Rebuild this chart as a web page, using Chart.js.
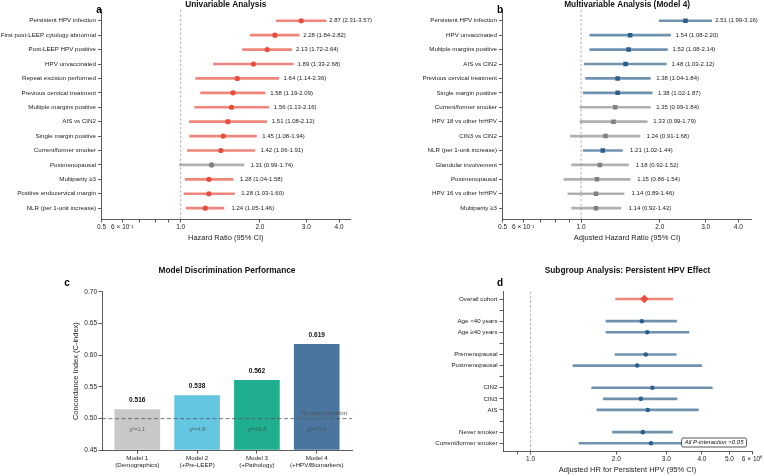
<!DOCTYPE html>
<html>
<head>
<meta charset="utf-8">
<script src="https://cdn.jsdelivr.net/npm/chart.js@4.4.1/dist/chart.umd.min.js"></script>
<style>
  html, body { margin: 0; padding: 0; background: #fff; }
  #wrap { position: relative; width: 764px; height: 476px; overflow: hidden; }
  canvas { position: absolute; }
</style>
</head>
<body>
<div id="wrap">
  <canvas id="pa" width="382" height="245" style="left:0;top:0"></canvas>
  <canvas id="pb" width="382" height="245" style="left:382px;top:0"></canvas>
  <canvas id="pc" width="382" height="231" style="left:0;top:245px"></canvas>
  <canvas id="pd" width="382" height="231" style="left:382px;top:245px"></canvas>
</div>
<script>
// ── panel a: univariable ──
const labelsA = [
  'Persistent HPV infection', 'First post-LEEP cytology abnormal', 'Post-LEEP HPV positive',
  'HPV unvaccinated', 'Repeat excision performed', 'Previous cervical treatment',
  'Multiple margins positive', 'AIS vs CIN2', 'Single margin positive', 'Current/former smoker',
  'Postmenopausal', 'Multiparity ≥3', 'Positive endocervical margin', 'NLR (per 1-unit increase)',
];
const hrA = [2.87, 2.28, 2.13, 1.89, 1.64, 1.58, 1.56, 1.51, 1.45, 1.42, 1.31, 1.28, 1.28, 1.24];
const loA = [2.31, 1.84, 1.72, 1.33, 1.14, 1.19, 1.13, 1.08, 1.08, 1.06, 0.99, 1.04, 1.03, 1.05];
const hiA = [3.57, 2.82, 2.64, 2.68, 2.36, 2.09, 2.16, 2.12, 1.94, 1.91, 1.74, 1.58, 1.60, 1.46];

// ── panel b: multivariable (model 4) ──
const labelsB = [
  'Persistent HPV infection', 'HPV unvaccinated', 'Multiple margins positive', 'AIS vs CIN2',
  'Previous cervical treatment', 'Single margin positive', 'Current/former smoker',
  'HPV 18 vs other hrHPV', 'CIN3 vs CIN2', 'NLR (per 1-unit increase)', 'Glandular involvement',
  'Postmenopausal', 'HPV 16 vs other hrHPV', 'Multiparity ≥3',
];
const hrB = [2.51, 1.54, 1.52, 1.48, 1.38, 1.38, 1.35, 1.33, 1.24, 1.21, 1.18, 1.15, 1.14, 1.14];
const loB = [1.99, 1.08, 1.08, 1.03, 1.04, 1.02, 0.99, 0.99, 0.91, 1.02, 0.92, 0.86, 0.89, 0.92];
const hiB = [3.16, 2.20, 2.14, 2.12, 1.84, 1.87, 1.84, 1.79, 1.68, 1.44, 1.52, 1.54, 1.46, 1.42];

// shared log tick labels for a and b
const xTicksAB      = [0.5, 0.6, 0.7, 0.8, 0.9, 1, 2, 3, 4];
const xTickLabelsAB = ['0.5', '6 × 10⁻¹', '', '', '', '1.0', '2.0', '3.0', '4.0'];

// ── panel c: discrimination ──
const modelLabels = [
  ['Model 1', '(Demographics)'], ['Model 2', '(+Pre-LEEP)'],
  ['Model 3', '(+Pathology)'], ['Model 4', '(+HPV/Biomarkers)'],
];
const cIndex  = [0.516, 0.538, 0.562, 0.619];
const chiSq   = [1.1, 4.8, 16.8, 73.0];
const yTicksC = [0.45, 0.50, 0.55, 0.60, 0.65, 0.70];

// ── panel d: subgroups ('' = spacer row) ──
const subgroupsD = [
  'Overall cohort', '', 'Age <40 years', 'Age ≥40 years', '', 'Premenopausal', 'Postmenopausal',
  '', 'CIN2', 'CIN3', 'AIS', '', 'Never smoker', 'Current/former smoker',
];
const hrD = [2.51, null, 2.46, 2.57, null, 2.54, 2.37, null, 2.68, 2.44, 2.58, null, 2.48, 2.65];
const loD = [1.99, null, 1.84, 1.84, null, 1.98, 1.41, null, 1.64, 1.80, 1.71, null, 1.94, 1.48];
const hiD = [3.16, null, 3.26, 3.60, null, 3.25, 3.99, null, 4.35, 3.27, 3.89, null, 3.15, 4.70];
const xTicksD      = [0.9, 1, 2, 3, 4, 5, 6];
const xTickLabelsD = ['', '1.0', '2.0', '3.0', '4.0', '5.0', '6 × 10⁰'];

// ── style ──
const FONT   = "'Liberation Sans', Arial, Helvetica, sans-serif";
const RED    = '#e74c3c';
const RED_CI = 'rgba(231,76,60,0.68)';
const BLUE   = '#2c5f8a';
const BLUE_CI = 'rgba(44,95,138,0.68)';
const GRAY   = '#808080';
const GRAY_CI = 'rgba(128,128,128,0.62)';
const MODEL_COLORS = ['#c8c8c8', '#64c6e0', '#1fae8f', '#49759e'];
const AXIS   = '#333';
const TEXT   = '#222';

Chart.defaults.font.family = FONT;
Chart.defaults.color = TEXT;

const gridOpts = { drawOnChartArea: false, offset: false, tickLength: 3.5, tickColor: AXIS, tickWidth: 0.8 };
const borderOpts = { color: AXIS, width: 0.8 };

// dashed reference line at HR = 1
const refLine = {
  id: 'refLine',
  beforeDatasetsDraw(chart) {
    const { ctx, chartArea, scales: { x } } = chart;
    const px = x.getPixelForValue(1);
    ctx.save();
    ctx.strokeStyle = '#9a9a9a';
    ctx.lineWidth = 0.8;
    ctx.setLineDash([2.5, 2]);
    ctx.beginPath();
    ctx.moveTo(px, chartArea.top);
    ctx.lineTo(px, chartArea.bottom);
    ctx.stroke();
    ctx.restore();
  },
};

const panelLetter = {
  id: 'panelLetter',
  afterDraw(chart, args, opts) {
    const ctx = chart.ctx;
    ctx.save();
    ctx.font = `bold 10px ${FONT}`;
    ctx.fillStyle = '#000';
    ctx.textAlign = 'center';
    ctx.textBaseline = 'middle';
    ctx.fillText(opts.text, opts.x, opts.y);
    ctx.restore();
  },
};

// "HR (lo-hi)" labels right of each CI
const ciText = {
  id: 'ciText',
  afterDatasetsDraw(chart, args, opts) {
    const { ctx, scales: { x, y } } = chart;
    ctx.save();
    ctx.font = `6px ${FONT}`;
    ctx.fillStyle = TEXT;
    ctx.textAlign = 'left';
    ctx.textBaseline = 'middle';
    opts.hr.forEach((v, i) => {
      const txt = `${v.toFixed(2)} (${opts.lo[i].toFixed(2)}-${opts.hi[i].toFixed(2)})`;
      ctx.fillText(txt, x.getPixelForValue(opts.hi[i] + 0.1), y.getPixelForValue(i));
    });
    ctx.restore();
  },
};

const interactionNote = {
  id: 'interactionNote',
  afterDraw(chart) {
    const { ctx, chartArea } = chart;
    const txt = 'All P-interaction >0.05';
    ctx.save();
    ctx.font = `italic 6px ${FONT}`;
    const w = ctx.measureText(txt).width + 6;
    const h = 9;
    const bx = chartArea.right - 5.5 - w;
    const by = chartArea.bottom - 4 - h;
    ctx.beginPath();
    ctx.roundRect(bx, by, w, h, 1.5);
    ctx.fillStyle = '#fff';
    ctx.fill();
    ctx.strokeStyle = '#111';
    ctx.lineWidth = 0.7;
    ctx.stroke();
    ctx.fillStyle = '#111';
    ctx.textAlign = 'center';
    ctx.textBaseline = 'middle';
    ctx.fillText(txt, bx + w / 2, by + h / 2 + 0.3);
    ctx.restore();
  },
};

function forestChart(id, o) {
  const rows = o.hr.map((v, i) => (v == null ? -1 : i)).filter((i) => i >= 0);
  return new Chart(document.getElementById(id), {
    type: 'bar',
    data: {
      datasets: [
        {
          type: 'line',
          data: rows.map((i) => ({ x: o.hr[i], y: i })),
          showLine: false,
          pointStyle: rows.map((i) => o.pointStyle(i)),
          pointRadius: rows.map((i) => o.pointRadius(i)),
          pointBackgroundColor: rows.map((i) => o.ptColor(i)),
          pointBorderWidth: 0,
          order: 0,
        },
        {
          type: 'bar',
          data: rows.map((i) => ({ x: [o.lo[i], o.hi[i]], y: i })),
          backgroundColor: rows.map((i) => o.ciColor(i)),
          barThickness: 2,
          order: 1,
        },
      ],
    },
    options: {
      indexAxis: 'y',
      responsive: false,
      animation: false,
      devicePixelRatio: 1,
      events: [],
      layout: { padding: { left: 0, top: o.padTop, right: o.padRight, bottom: 0 } },
      plugins: {
        legend: { display: false },
        tooltip: { enabled: false },
        title: {
          display: true, text: o.title, color: '#111', fullSize: false,
          font: { size: 8.3, weight: 'bold' }, padding: { top: 0, bottom: o.titleGap },
        },
        panelLetter: o.letter,
        ciText: { hr: o.hr, lo: o.lo, hi: o.hi },
      },
      scales: {
        x: {
          type: 'logarithmic',
          min: o.xMin,
          max: o.xMax,
          offset: false,
          afterBuildTicks: (s) => { s.ticks = o.xTicks.map((v) => ({ value: v })); },
          afterFit: (s) => { s.height = o.xAxisHeight; },
          ticks: {
            autoSkip: false, maxRotation: 0, minRotation: 0, padding: 1, color: TEXT,
            font: { size: 6.5 }, callback: (v, i) => o.xTickLabels[i],
          },
          grid: gridOpts,
          border: borderOpts,
          title: {
            display: true, text: o.xTitle, color: TEXT, font: { size: 7.5 },
            padding: { top: 0, bottom: o.xTitlePad },
          },
        },
        y: {
          type: 'linear',
          reverse: true,
          offset: false,
          min: o.yMin,
          max: o.yMax,
          afterBuildTicks: (s) => { s.ticks = o.labels.map((_, i) => ({ value: i })); },
          afterFit: (s) => { s.width = o.yAxisWidth; },
          ticks: {
            autoSkip: false, padding: 2, color: TEXT, font: { size: 6.2 },
            callback: (v, i) => o.labels[i],
          },
          grid: gridOpts,
          border: borderOpts,
        },
      },
    },
    plugins: o.plugins,
  });
}

// ── a ──
forestChart('pa', {
  labels: labelsA, hr: hrA, lo: loA, hi: hiA,
  pointStyle: () => 'circle',
  pointRadius: () => 2.6,
  ptColor: (i) => (loA[i] > 1 ? RED : GRAY),
  ciColor: (i) => (loA[i] > 1 ? RED_CI : GRAY_CI),
  xMin: 0.5, xMax: 4.4, xTicks: xTicksAB, xTickLabels: xTickLabelsAB,
  yMin: -0.75, yMax: 13.75,
  padTop: 0, titleGap: 0, padRight: 32, yAxisWidth: 101.5, xAxisHeight: 26, xTitlePad: 2.5,
  title: 'Univariable Analysis', xTitle: 'Hazard Ratio (95% CI)',
  letter: { text: 'a', x: 99, y: 10 },
  plugins: [refLine, ciText, panelLetter],
});

// ── b ──
forestChart('pb', {
  labels: labelsB, hr: hrB, lo: loB, hi: hiB,
  pointStyle: () => 'rect',
  pointRadius: () => 3.2,
  ptColor: (i) => (loB[i] > 1 ? BLUE : GRAY),
  ciColor: (i) => (loB[i] > 1 ? BLUE_CI : GRAY_CI),
  xMin: 0.5, xMax: 4.5, xTicks: xTicksAB, xTickLabels: xTickLabelsAB,
  yMin: -0.75, yMax: 13.75,
  padTop: 0, titleGap: 0, padRight: 12.3, yAxisWidth: 120.5, xAxisHeight: 26, xTitlePad: 2.5,
  title: 'Multivariable Analysis (Model 4)', xTitle: 'Adjusted Hazard Ratio (95% CI)',
  letter: { text: 'b', x: 118, y: 10 },
  plugins: [refLine, ciText, panelLetter],
});

// ── d ──
forestChart('pd', {
  labels: subgroupsD, hr: hrD, lo: loD, hi: hiD,
  pointStyle: (i) => (i === 0 ? 'rectRot' : 'circle'),
  pointRadius: (i) => (i === 0 ? 4.2 : 2.3),
  ptColor: (i) => (i === 0 ? RED : BLUE),
  ciColor: (i) => (i === 0 ? RED_CI : BLUE_CI),
  xMin: 0.8, xMax: 6, xTicks: xTicksD, xTickLabels: xTickLabelsD,
  yMin: -0.68, yMax: 13.7,
  padTop: 21, titleGap: 15.5, padRight: 12, yAxisWidth: 121, xAxisHeight: 25, xTitlePad: 1.5,
  title: 'Subgroup Analysis: Persistent HPV Effect', xTitle: 'Adjusted HR for Persistent HPV (95% CI)',
  letter: { text: 'd', x: 118, y: 38 },
  plugins: [refLine, interactionNote, panelLetter],
});

// ── c ──
const barText = {
  id: 'barText',
  afterDatasetsDraw(chart) {
    const { ctx, chartArea, scales: { x, y } } = chart;
    ctx.save();
    ctx.textAlign = 'center';
    ctx.textBaseline = 'middle';
    cIndex.forEach((v, i) => {
      const px = x.getPixelForValue(i);
      ctx.font = `bold 6.6px ${FONT}`;
      ctx.fillStyle = '#111';
      ctx.fillText(v.toFixed(3), px, y.getPixelForValue(v) - 8.5);
      ctx.font = `5.6px ${FONT}`;
      ctx.fillStyle = 'rgba(70,70,70,0.75)';
      ctx.fillText(`χ²=${chiSq[i].toFixed(1)}`, px, y.getPixelForValue(0.483));
    });
    // no-discrimination reference
    const py = y.getPixelForValue(0.5);
    ctx.strokeStyle = '#555';
    ctx.lineWidth = 0.8;
    ctx.setLineDash([4, 2.5]);
    ctx.beginPath();
    ctx.moveTo(chartArea.left, py);
    ctx.lineTo(chartArea.right, py);
    ctx.stroke();
    ctx.font = `italic 6px ${FONT}`;
    ctx.fillStyle = '#555';
    ctx.textAlign = 'right';
    ctx.textBaseline = 'middle';
    ctx.fillText('No discrimination', chartArea.right - 5, py - 5.5);
    ctx.restore();
  },
};

new Chart(document.getElementById('pc'), {
  type: 'bar',
  data: {
    datasets: [{
      data: cIndex.map((v, i) => ({ x: i, y: v })),
      backgroundColor: MODEL_COLORS,
      borderColor: '#fff',
      borderWidth: 1,
      barThickness: 47,
      base: yTicksC[0],
      clip: 0,
    }],
  },
  options: {
    responsive: false,
    animation: false,
    devicePixelRatio: 1,
    events: [],
    layout: { padding: { left: 0, top: 21, right: 30, bottom: 0 } },
    plugins: {
      legend: { display: false },
      tooltip: { enabled: false },
      title: {
        display: true, text: 'Model Discrimination Performance', color: '#111', fullSize: false,
        font: { size: 8.3, weight: 'bold' }, padding: { top: 0, bottom: 16 },
      },
      panelLetter: { text: 'c', x: 67, y: 38 },
    },
    scales: {
      x: {
        type: 'linear',
        offset: false,
        min: -0.59,
        max: 3.59,
        afterBuildTicks: (s) => { s.ticks = modelLabels.map((_, i) => ({ value: i })); },
        afterFit: (s) => { s.height = 25.7; },
        ticks: {
          autoSkip: false, maxRotation: 0, minRotation: 0, padding: 1, color: TEXT,
          font: { size: 6.2, lineHeight: 1.1 }, callback: (v, i) => modelLabels[i],
        },
        grid: gridOpts,
        border: borderOpts,
      },
      y: {
        min: 0.45,
        max: 0.70,
        afterBuildTicks: (s) => { s.ticks = yTicksC.map((v) => ({ value: v })); },
        afterFit: (s) => { s.width = 102; },
        ticks: {
          padding: 1.5, color: TEXT, font: { size: 6.5 },
          callback: (v) => v.toFixed(2),
        },
        grid: gridOpts,
        border: borderOpts,
        title: {
          display: true, text: 'Concordance Index (C-index)', color: TEXT, font: { size: 7.5 },
          padding: { top: 71.5, bottom: 0 },
        },
      },
    },
  },
  plugins: [barText, panelLetter],
});
</script>
</body>
</html>
